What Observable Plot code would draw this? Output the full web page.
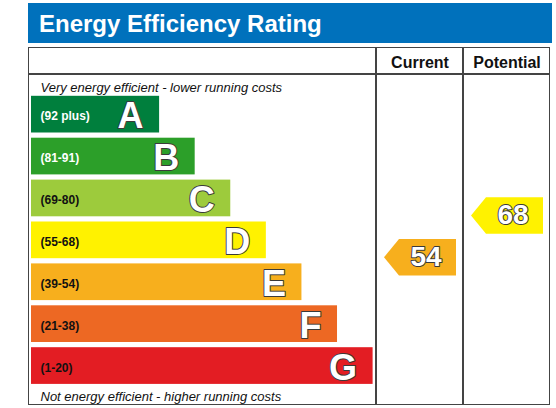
<!DOCTYPE html>
<html>
<head>
<meta charset="utf-8">
<script src="https://cdn.jsdelivr.net/npm/d3@7"></script>
<script src="https://cdn.jsdelivr.net/npm/@observablehq/plot@0.6"></script>
<style>
  html, body { margin: 0; padding: 0; background: #fff; }
  body { font-family: "Liberation Sans", Arial, sans-serif; }
  #wrap { position: relative; width: 556px; height: 408px; overflow: hidden; }
  #title { position: absolute; left: 28px; top: 3px; width: 524px; height: 40px; background: #0071bc;
           color: #fff; font-weight: bold; font-size: 24px; line-height: 40px; box-sizing: border-box; padding-left: 11px; }
  #title span { position: relative; top: 1px; }
  #table { position: absolute; left: 28px; top: 47px; width: 522px; height: 358px; box-sizing: border-box;
           border: 1.5px solid #444; }
  .hline { position: absolute; left: 28px; width: 522px; height: 1.5px; background: #444; }
  .vline { position: absolute; top: 47px; width: 1.5px; height: 358px; background: #444; }
  #left { position: absolute; left: 28px; top: 47px; }
  #cols { position: absolute; left: 376px; top: 47px; }
  svg { overflow: visible; }
</style>
</head>
<body>
<div id="wrap">
  <div id="title"><span></span></div>
  <div id="table"></div>
  <div class="hline" style="top:73.25px"></div>
  <div class="vline" style="left:375.25px"></div>
  <div class="vline" style="left:462.25px"></div>
  <div id="left"></div>
  <div id="cols"></div>
</div>
<script>
// ---- data ----
const title = "Energy Efficiency Rating";
const letters = ["A", "B", "C", "D", "E", "F", "G"];
const rangeLabels = ["(92 plus)", "(81-91)", "(69-80)", "(55-68)", "(39-54)", "(21-38)", "(1-20)"];
const bandMin = [92, 81, 69, 55, 39, 21, 1];
const bandMax = [100, 91, 80, 68, 54, 38, 20];
const bandRank = [1, 2, 3, 4, 5, 6, 7];
const bandColors = ["#007f3d", "#2c9f29", "#9dcb3c", "#fff200", "#f7af1d", "#ed6823", "#e31d23"];
const columns = ["Current", "Potential"];
const ratings = [54, 68];
const topNote = "Very energy efficient - lower running costs";
const bottomNote = "Not energy efficient - higher running costs";

// ---- derived tables ----
const bands = letters.map((letter, i) => ({
  letter, label: rangeLabels[i], min: bandMin[i], max: bandMax[i], rank: bandRank[i]
}));
const ratingData = columns.map((column, i) => ({column, value: ratings[i]}));
const bandOf = v => bands.find(b => v >= b.min && v <= b.max).letter;

// rating -> band steps (every band gets the same height)
const yBreaks = [bandMin[bandMin.length - 1] - 1, ...bandMax.slice().reverse()];
const toStep = d3.scaleLinear().domain(yBreaks).range(yBreaks.map((_, i) => i));
const yScale = {transform: toStep, domain: [0, yBreaks.length - 1], range: [339.5, 46.2], axis: null};
const xStart = -2.6;

const font = {fontFamily: "'Liberation Sans', Arial, sans-serif", background: "transparent", overflow: "visible"};
const colorScale = {domain: letters, range: bandColors};
const outline = {fill: "white", stroke: "#3a3a3a", strokeWidth: 2, paintOrder: "stroke", fontWeight: "bold"};
const mid = d => (d.min - 1 + d.max) / 2;
const darkBand = d => d.rank <= 2;

document.querySelector("#title span").textContent = title;

const left = Plot.plot({
  width: 348, height: 358, margin: 0,
  x: {domain: [xStart, bandRank[bandRank.length - 1]], range: [3, 344.6], axis: null},
  y: yScale,
  color: colorScale,
  style: font,
  marks: [
    Plot.rect(bands, {x1: () => xStart, x2: "rank", y1: d => d.min - 1, y2: "max", fill: "letter",
                      insetTop: 2.6, insetBottom: 2.6}),
    Plot.text(bands, {filter: darkBand, x: () => xStart, y: mid, text: "label", textAnchor: "start",
                      dx: 9, dy: 2, fontSize: 12, fontWeight: "bold", fill: "white"}),
    Plot.text(bands, {filter: d => !darkBand(d), x: () => xStart, y: mid, text: "label", textAnchor: "start",
                      dx: 9, dy: 2, fontSize: 12, fontWeight: "bold", fill: "#111"}),
    Plot.text(bands, {x: "rank", y: mid, text: "letter", textAnchor: "end", dx: -16, dy: 2, fontSize: 36, ...outline}),
    Plot.text([topNote], {frameAnchor: "top-left", lineAnchor: "bottom", dx: 12, dy: 44,
                          fontSize: 13, fontStyle: "italic", fill: "#111"}),
    Plot.text([bottomNote], {frameAnchor: "bottom-left", lineAnchor: "bottom", dx: 12, dy: -5,
                             fontSize: 13, fontStyle: "italic", fill: "#111"})
  ]
});
document.getElementById("left").appendChild(left);

const arrow = {
  draw(context) {
    context.moveTo(-36, 0);
    context.lineTo(-21, -18.25);
    context.lineTo(36, -18.25);
    context.lineTo(36, 18.25);
    context.lineTo(-21, 18.25);
    context.closePath();
  }
};

const cols = Plot.plot({
  width: 174, height: 358, marginTop: 27, marginLeft: 0, marginRight: 0, marginBottom: 0,
  fx: {domain: columns, padding: 0, axis: null},
  y: yScale,
  color: colorScale,
  style: font,
  marks: [
    Plot.axisFx({anchor: "top", label: null, tickSize: 0, tickPadding: 7, fontSize: 16, fontWeight: "bold", fill: "#111"}),
    Plot.dot(ratingData, {fx: "column", y: "value", fill: d => bandOf(d.value), stroke: "none", symbol: arrow, dy: -4}),
    Plot.text(ratingData, {fx: "column", y: "value", text: d => String(d.value), dx: 6, dy: -4, fontSize: 28, ...outline})
  ]
});
document.getElementById("cols").appendChild(cols);
</script>
</body>
</html>
